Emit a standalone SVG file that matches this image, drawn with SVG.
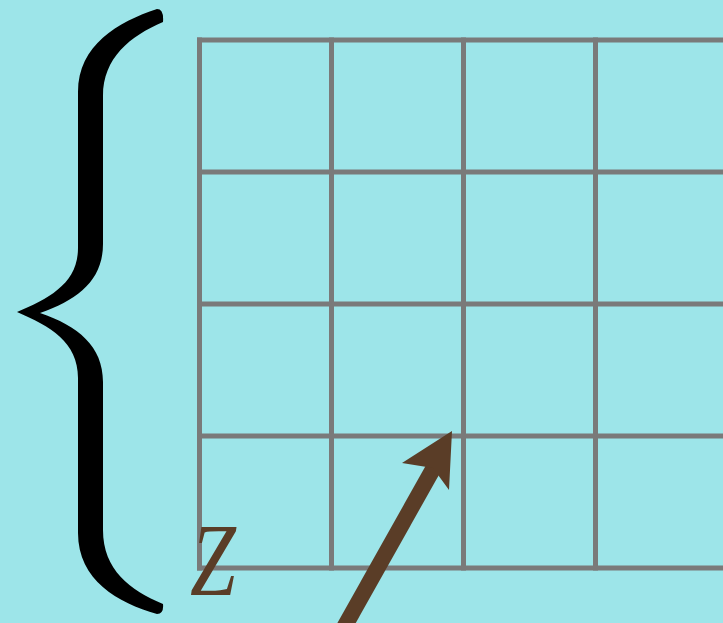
<svg xmlns="http://www.w3.org/2000/svg" width="723" height="623" viewBox="0 0 723 623">
  <style>
    .grid line { stroke: #7a7a7a; stroke-width: 5; }
    .brace { fill: #000000; }
    .arrow { fill: #5a3d27; }
    .lbl { font-family: "Liberation Serif", "Times New Roman", serif; font-style: italic; fill: #5a3d27; }
  </style>
  <rect x="0" y="0" width="723" height="623" fill="#9de5e9"/>
  <g id="grid" class="grid">
    <line x1="199.5" y1="37.5" x2="199.5" y2="570.5"/>
    <line x1="331.5" y1="37.5" x2="331.5" y2="570.5"/>
    <line x1="463.5" y1="37.5" x2="463.5" y2="570.5"/>
    <line x1="595.5" y1="37.5" x2="595.5" y2="570.5"/>
    <line x1="197" y1="40" x2="723" y2="40"/>
    <line x1="197" y1="172" x2="723" y2="172"/>
    <line x1="197" y1="304" x2="723" y2="304"/>
    <line x1="197" y1="436" x2="723" y2="436"/>
    <line x1="197" y1="568" x2="723" y2="568"/>
  </g>
  <g id="brace">
    <path class="brace" d="M 157,9 C 118,22 78,45 78,92 L 78,248 C 78,283 50,298 17,312 C 50,326 78,342 78,378 L 78,533 C 78,580 118,603 157,614 Q 164,614 163,604 C 130,590 103,570 103,530 L 103,382 C 103,346 78,326 40,313 C 78,300 103,280 103,244 L 103,96 C 103,58 130,36 163,22 Q 164,9 157,9 Z"/>
  </g>
  <g id="label-z">
    <text class="lbl" transform="translate(190,595) scale(0.8,1)" x="0" y="0" font-size="103">Z</text>
  </g>
  <g id="connectors">
    <line x1="337" y1="640" x2="437" y2="462" stroke="#5a3d27" stroke-width="16"/>
    <polygon class="arrow" points="452,431 402,463 433,468 449,490"/>
  </g>
</svg>
